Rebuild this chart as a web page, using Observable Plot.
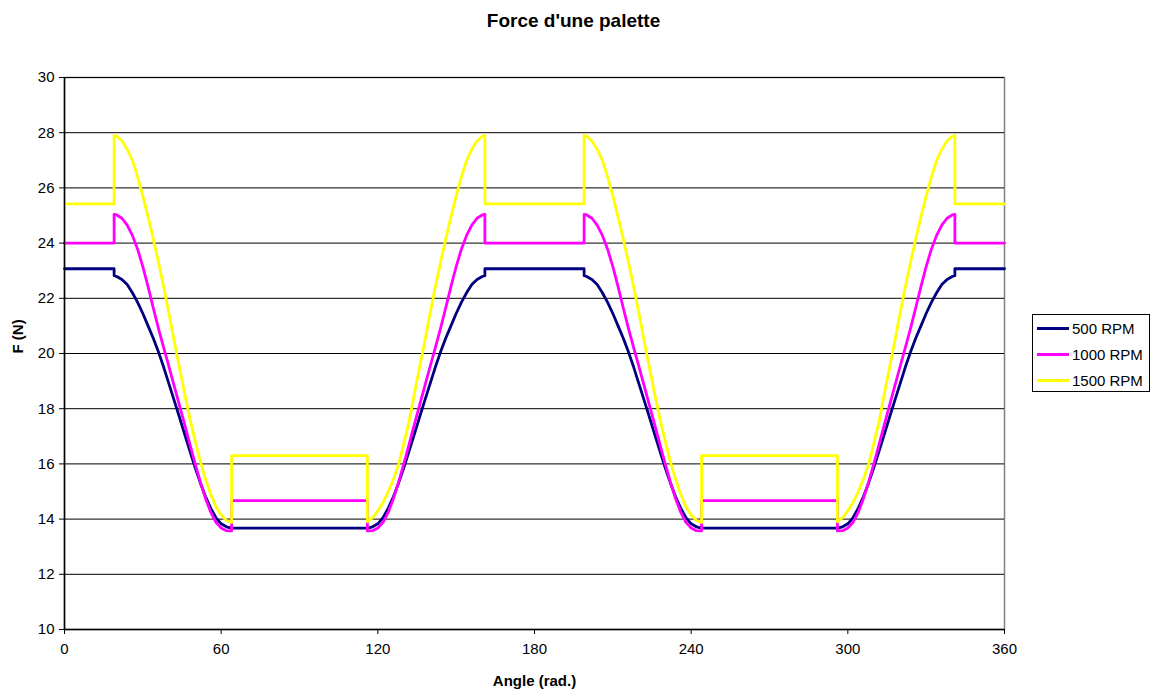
<!DOCTYPE html>
<html>
<head>
<meta charset="utf-8">
<script src="https://cdn.jsdelivr.net/npm/d3@7"></script>
<script src="https://cdn.jsdelivr.net/npm/@observablehq/plot@0.6"></script>
<style>
  body { margin: 0; background: #fff; }
  #wrap { position: relative; width: 1156px; height: 693px; font-family: "Liberation Sans", Arial, sans-serif; }
  #legend { position: absolute; left: 1032px; top: 314px; width: 116px; height: 76px; border: 1px solid #000; background: #fff; }
  .row { position: absolute; left: 0; height: 18px; display: flex; align-items: center; font-size: 15px; color: #000; }
  .swatch { width: 32px; height: 3px; margin-left: 4px; margin-right: 3px; }
</style>
</head>
<body>
<div id="wrap">
  <div id="chart"></div>
  <div id="legend"></div>
</div>
<script>
const chartTitle = "Force d'une palette";
const xLabel = "Angle (rad.)";
const yLabel = "F (N)";
const xTicks = [0, 60, 120, 180, 240, 300, 360];
const yTicks = [10, 12, 14, 16, 18, 20, 22, 24, 26, 28, 30];
const seriesNames = ["500 RPM", "1000 RPM", "1500 RPM"];
const seriesColors = ["#000080", "#ff00ff", "#ffff00"];

const angle = [
  0, 19, 19, 20, 22, 24, 26, 28, 30, 32, 34, 36, 38, 40, 42, 44, 46, 48, 50, 52, 54, 56, 58, 60, 62, 64, 64,
  116, 116, 118, 120, 122, 124, 126, 128, 130, 132, 134, 136, 138, 140, 142, 144, 146, 148, 150, 152, 154, 156, 158, 160, 161, 161,
  199, 199, 200, 202, 204, 206, 208, 210, 212, 214, 216, 218, 220, 222, 224, 226, 228, 230, 232, 234, 236, 238, 240, 242, 244, 244,
  296, 296, 298, 300, 302, 304, 306, 308, 310, 312, 314, 316, 318, 320, 322, 324, 326, 328, 330, 332, 334, 336, 338, 340, 341, 341, 360
];

const rpm500 = [
  23.07, 23.07, 22.82, 22.79, 22.68, 22.5, 22.2, 21.85, 21.45, 21.0, 20.55, 20.05, 19.5, 18.9, 18.3, 17.7, 17.08, 16.47, 15.88, 15.32, 14.82, 14.4, 14.05, 13.83, 13.72, 13.67, 13.67,
  13.67, 13.67, 13.72, 13.83, 14.05, 14.4, 14.82, 15.32, 15.88, 16.47, 17.08, 17.7, 18.3, 18.9, 19.5, 20.05, 20.55, 21.0, 21.45, 21.85, 22.2, 22.5, 22.68, 22.79, 22.82, 23.07,
  23.07, 22.82, 22.79, 22.68, 22.5, 22.2, 21.85, 21.45, 21.0, 20.55, 20.05, 19.5, 18.9, 18.3, 17.7, 17.08, 16.47, 15.88, 15.32, 14.82, 14.4, 14.05, 13.83, 13.72, 13.67, 13.67,
  13.67, 13.67, 13.72, 13.83, 14.05, 14.4, 14.82, 15.32, 15.88, 16.47, 17.08, 17.7, 18.3, 18.9, 19.5, 20.05, 20.55, 21.0, 21.45, 21.85, 22.2, 22.5, 22.68, 22.79, 22.82, 23.07, 23.07
];

const rpm1000 = [
  24.0, 24.0, 25.04, 25.02, 24.9, 24.65, 24.28, 23.78, 23.15, 22.42, 21.65, 20.9, 20.2, 19.52, 18.83, 18.13, 17.43, 16.72, 16.02, 15.35, 14.75, 14.25, 13.88, 13.68, 13.58, 13.57, 14.67,
  14.67, 13.57, 13.58, 13.68, 13.88, 14.25, 14.75, 15.35, 16.02, 16.72, 17.43, 18.13, 18.83, 19.52, 20.2, 20.9, 21.65, 22.42, 23.15, 23.78, 24.28, 24.65, 24.9, 25.02, 25.04, 24.0,
  24.0, 25.04, 25.02, 24.9, 24.65, 24.28, 23.78, 23.15, 22.42, 21.65, 20.9, 20.2, 19.52, 18.83, 18.13, 17.43, 16.72, 16.02, 15.35, 14.75, 14.25, 13.88, 13.68, 13.58, 13.57, 14.67,
  14.67, 13.57, 13.58, 13.68, 13.88, 14.25, 14.75, 15.35, 16.02, 16.72, 17.43, 18.13, 18.83, 19.52, 20.2, 20.9, 21.65, 22.42, 23.15, 23.78, 24.28, 24.65, 24.9, 25.02, 25.04, 24.0, 24.0
];

const rpm1500 = [
  25.42, 25.42, 27.9, 27.87, 27.7, 27.4, 27.0, 26.4, 25.7, 24.95, 24.15, 23.3, 22.4, 21.45, 20.45, 19.5, 18.55, 17.65, 16.85, 16.1, 15.45, 14.9, 14.45, 14.15, 13.95, 13.88, 16.3,
  16.3, 13.9, 14.05, 14.3, 14.6, 15.0, 15.45, 16.0, 16.75, 17.55, 18.55, 19.5, 20.45, 21.45, 22.4, 23.3, 24.15, 24.95, 25.7, 26.4, 27.0, 27.4, 27.7, 27.87, 27.9, 25.42,
  25.42, 27.9, 27.87, 27.7, 27.4, 27.0, 26.4, 25.7, 24.95, 24.15, 23.3, 22.4, 21.45, 20.45, 19.5, 18.55, 17.65, 16.85, 16.1, 15.45, 14.9, 14.45, 14.15, 13.95, 13.88, 16.3,
  16.3, 13.9, 14.05, 14.3, 14.6, 15.0, 15.45, 16.0, 16.75, 17.55, 18.55, 19.5, 20.45, 21.45, 22.4, 23.3, 24.15, 24.95, 25.7, 26.4, 27.0, 27.4, 27.7, 27.87, 27.9, 25.42, 25.42
];

const seriesValues = [rpm500, rpm1000, rpm1500];
const font = "'Liberation Sans', Arial, sans-serif";

const lineMarks = seriesValues.map((vals, s) =>
  Plot.line(angle.map((a, i) => [a, vals[i]]), {
    x: d => d[0], y: d => d[1],
    stroke: seriesColors[s], strokeWidth: 2.8, strokeLinejoin: "round", strokeLinecap: "round"
  })
);

const chart = Plot.plot({
  width: 1156,
  height: 693,
  marginLeft: 64,
  marginRight: 152,
  marginTop: 77,
  marginBottom: 64,
  style: { fontFamily: font, fontSize: "15px", background: "#fff", color: "#000", overflow: "visible" },
  x: { domain: [0, 360] },
  y: { domain: [10, 30] },
  marks: [
    Plot.frame({ stroke: "#808080", strokeWidth: 1.5 }),
    Plot.ruleY(yTicks, { stroke: "#000", strokeWidth: 1 }),
    ...lineMarks,
    Plot.ruleX([0], { stroke: "#000", strokeWidth: 1.5 }),
    Plot.ruleY([10], { stroke: "#000", strokeWidth: 1.5 }),
    Plot.axisX(xTicks, { tickSize: 5, tickPadding: 9, label: null, fontSize: 15, stroke: "#000" }),
    Plot.axisY(yTicks, { tickSize: 5, tickPadding: 5, label: null, fontSize: 15, stroke: "#000" }),
    Plot.text([chartTitle], { text: d => d, frameAnchor: "top", lineAnchor: "middle", dx: 39, dy: -57, fontWeight: "bold", fontSize: 19 }),
    Plot.text([yLabel], { text: d => d, frameAnchor: "left", lineAnchor: "middle", dx: -46, rotate: -90, fontWeight: "bold", fontSize: 15 }),
    Plot.text([xLabel], { text: d => d, frameAnchor: "bottom", lineAnchor: "middle", dy: 52, fontWeight: "bold", fontSize: 15 })
  ]
});
document.getElementById("chart").appendChild(chart);

const legend = document.getElementById("legend");
seriesNames.forEach((name, i) => {
  const row = document.createElement("div");
  row.className = "row";
  row.style.top = (4 + i * 26) + "px";
  const sw = document.createElement("span");
  sw.className = "swatch";
  sw.style.background = seriesColors[i];
  const tx = document.createElement("span");
  tx.textContent = name;
  row.appendChild(sw);
  row.appendChild(tx);
  legend.appendChild(row);
});
</script>
</body>
</html>
